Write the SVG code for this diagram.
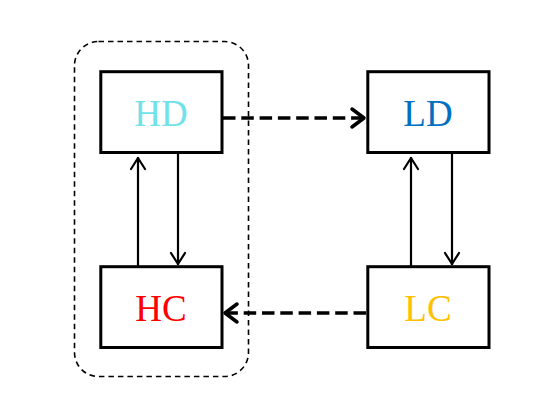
<svg xmlns="http://www.w3.org/2000/svg" width="546" height="420" viewBox="0 0 546 420">
<style>
.box{fill:#fff;stroke:#000;stroke-width:3}
.lbl{font-family:"Liberation Serif",serif;font-size:37px;text-anchor:middle}
.thin{fill:none;stroke:#000;stroke-width:2.2}
.thick{fill:none;stroke:#000;stroke-width:3.5;stroke-dasharray:12.5,5.8}
.head{fill:none;stroke:#000;stroke-linecap:round;stroke-linejoin:round}
</style>
<rect x="74.5" y="41.5" width="174" height="335" rx="24" fill="none" stroke="#000" stroke-width="1.6" stroke-dasharray="5.5,4"/>
<g id="connectors">
<line class="thick" x1="223" y1="118" x2="362" y2="118"/>
<path class="head" stroke-width="3.5" d="M352,109 L364,118 L352,127"/>
<line class="thick" x1="366" y1="313" x2="227" y2="313"/>
<path class="head" stroke-width="3.5" d="M237,304 L225,313 L237,322"/>
<line class="thin" x1="138" y1="266" x2="138" y2="157"/>
<path class="head" stroke-width="2.2" d="M131,169 L138,158 L145,169"/>
<line class="thin" x1="178" y1="154" x2="178" y2="265"/>
<path class="head" stroke-width="2.2" d="M171,253 L178,264 L185,253"/>
<line class="thin" x1="411" y1="266" x2="411" y2="157"/>
<path class="head" stroke-width="2.2" d="M404,169 L411,158 L418,169"/>
<line class="thin" x1="452" y1="154" x2="452" y2="265"/>
<path class="head" stroke-width="2.2" d="M445,253 L452,264 L459,253"/>
</g>
<g id="HD"><rect class="box" x="100.8" y="71.7" width="121.2" height="80.8"/><text class="lbl" x="161" y="126" fill="#71e2ea">HD</text></g>
<g id="LD"><rect class="box" x="367.8" y="71.7" width="121.2" height="80.8"/><text class="lbl" x="428" y="126" fill="#0070c0">LD</text></g>
<g id="HC"><rect class="box" x="100.8" y="266.7" width="121.2" height="80.8"/><text class="lbl" x="161" y="321" fill="#ff0000">HC</text></g>
<g id="LC"><rect class="box" x="367.8" y="266.7" width="121.2" height="80.8"/><text class="lbl" x="428" y="321" fill="#ffc000">LC</text></g>
</svg>
